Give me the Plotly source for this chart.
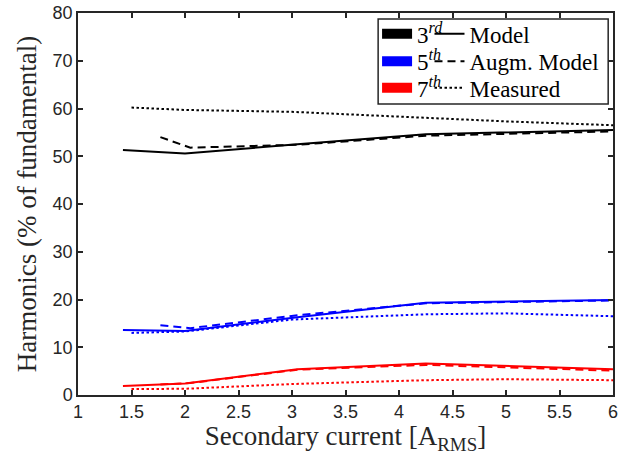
import plotly.graph_objects as go

# ---- data ----
x_model = [1.42, 2.0, 3.05, 4.25, 6.0]
x_augm = [1.77, 2.05, 3.05, 4.25, 6.0]
x_meas = [1.5, 2.0, 3.0, 4.25, 5.0, 6.0]

h3_model = [51.3, 50.6, 52.5, 54.6, 55.5]
h3_augm = [54.0, 51.8, 52.4, 54.3, 55.2]
h3_meas = [60.2, 59.7, 59.3, 58.0, 57.3, 56.5]

h5_model = [13.6, 13.4, 16.3, 19.3, 19.9]
h5_augm = [14.6, 14.0, 16.7, 19.2, 19.8]
h5_meas = [13.0, 13.3, 15.8, 16.9, 17.1, 16.5]

h7_model = [1.9, 2.4, 5.4, 6.6, 5.4]
h7_augm = [2.2, 2.5, 5.3, 6.3, 5.1]
h7_meas = [1.25, 1.3, 2.3, 3.1, 3.3, 3.1]

harmonic_names = ["3<sup><i>rd</i></sup>", "5<sup><i>th</i></sup>", "7<sup><i>th</i></sup>"]
style_names = ["Model", "Augm. Model", "Measured"]
x_ticks = [1, 1.5, 2, 2.5, 3, 3.5, 4, 4.5, 5, 5.5, 6]
y_ticks = [0, 10, 20, 30, 40, 50, 60, 70, 80]

colors = ["#000000", "#0000FF", "#FF0000"]
dashes = ["solid", "8px,5px", "2.5px,2.5px"]

series = [
    (h3_model, h3_augm, h3_meas),
    (h5_model, h5_augm, h5_meas),
    (h7_model, h7_augm, h7_meas),
]
xs = [x_model, x_augm, x_meas]

fig = go.Figure()
for ci, group in enumerate(series):
    for si, yv in enumerate(group):
        fig.add_trace(go.Scatter(
            x=xs[si], y=yv, mode="lines",
            line=dict(color=colors[ci], width=2, dash=dashes[si]),
            showlegend=False, hoverinfo="skip"))

# legend entries: one legend per cell so the rows can be packed tightly
row_y = [0.9458, 0.8738, 0.8045]
leg_font = dict(family="Liberation Serif", size=23, color="black")
legends = {}
for ci, nm in enumerate(harmonic_names):
    key = "legend" if ci == 0 else f"legend{ci + 1}"
    fig.add_trace(go.Scatter(x=[None], y=[None], mode="lines",
                             line=dict(color=colors[ci], width=12),
                             name=nm, legend=key))
    legends[key] = dict(x=0.559, y=row_y[ci], xanchor="left", yanchor="middle",
                        bgcolor="rgba(0,0,0,0)", borderwidth=0, font=leg_font,
                        itemwidth=30)
for si, nm in enumerate(style_names):
    key = f"legend{si + 4}"
    fig.add_trace(go.Scatter(x=[None], y=[None], mode="lines",
                             line=dict(color="black", width=2, dash=dashes[si]),
                             name=nm, legend=key))
    legends[key] = dict(x=0.657, y=row_y[si], xanchor="left", yanchor="middle",
                        bgcolor="rgba(0,0,0,0)", borderwidth=0, font=leg_font,
                        itemwidth=30)

axis_col = "#262626"
common_axis = dict(
    showline=True, linecolor=axis_col, linewidth=1.5, mirror="ticks",
    ticks="inside", ticklen=5, tickwidth=1.5, tickcolor=axis_col,
    showgrid=False, zeroline=False, automargin=False,
    tickfont=dict(family="Liberation Sans, Arial", size=18, color=axis_col),
)

fig.update_layout(
    width=638, height=455,
    margin=dict(l=78, r=25, t=13, b=60, autoexpand=False),
    plot_bgcolor="white", paper_bgcolor="white",
    xaxis=dict(range=[1, 6], tickvals=x_ticks,
               title=dict(text="Secondary current [A<sub>RMS</sub>]",
                          font=dict(family="Liberation Serif", size=27, color=axis_col),
                          standoff=3),
               **common_axis),
    yaxis=dict(range=[0, 80], tickvals=y_ticks,
               title=dict(text="Harmonics (% of fundamental)",
                          font=dict(family="Liberation Serif", size=27, color=axis_col),
                          standoff=8),
               **common_axis),
    shapes=[dict(type="rect", xref="paper", yref="paper",
                 x0=0.561, x1=0.991, y0=0.762, y1=0.984,
                 fillcolor="white", line=dict(color=axis_col, width=1.5),
                 layer="above")],
    **legends,
)

fig.write_html("out.html")
